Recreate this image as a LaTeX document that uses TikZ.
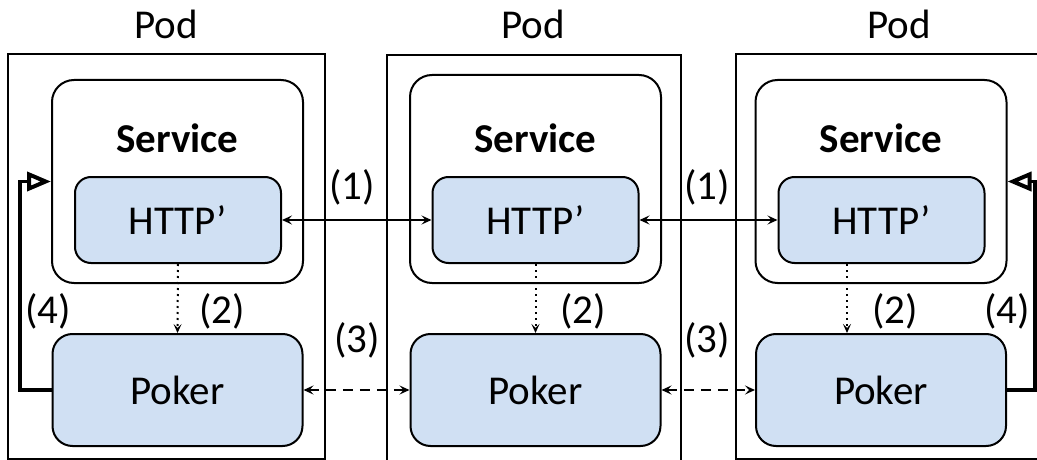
\documentclass[tikz,border=0pt]{standalone}
\usepackage{fontspec}
\setmainfont{Carlito}
\usetikzlibrary{arrows.meta}
\definecolor{boxblue}{RGB}{208,224,243}
\tikzset{
  txt/.style={inner sep=0pt, font=\fontsize{41}{48}\selectfont},
  bold/.style={txt, font=\fontsize{41}{48}\selectfont\bfseries},
  podbox/.style={draw, line width=1.5pt},
  servbox/.style={draw, line width=2pt, rounded corners=22pt, inner sep=0pt},
  bluebox/.style={draw, line width=2pt, fill=boxblue, inner sep=0pt, font=\fontsize{41}{48}\selectfont},
  httpbox/.style={bluebox, rounded corners=16pt, minimum width=206pt, minimum height=86pt},
  pokerbox/.style={bluebox, rounded corners=20pt, minimum width=250pt, minimum height=112pt},
  conn/.style={line width=1.6pt, {Stealth[length=10pt,width=9pt,inset=4pt]}-{Stealth[length=10pt,width=9pt,inset=4pt]}},
  dotconn/.style={line width=2pt, dash pattern=on 2pt off 4pt, -{Stealth[length=9pt,width=8pt,inset=4pt,line width=1.6pt]}},
  dashconn/.style={conn, dash pattern=on 10pt off 7pt},
  feedback/.style={line width=3.5pt, -{Triangle[open,length=24pt,width=19pt,line width=4pt]}}
}
\begin{document}
\begin{tikzpicture}[x=1pt,y=-1pt]
\clip (0,0) rectangle (1037,460);
\fill[white] (0,0) rectangle (1037,460);
% pods
\draw[podbox] (8,54) rectangle (325,459);
\draw[podbox] (387,55) rectangle (681,480);
\draw[podbox] (736,54) rectangle (1060,459);
\node[txt] (pod1) at (166,24) {Pod};
\node[txt] (pod2) at (533,24) {Pod};
\node[txt] (pod3) at (899,24) {Pod};
% services
\node[servbox, minimum width=251pt, minimum height=203pt] (s1) at (177.5,181.5) {};
\node[servbox, minimum width=251pt, minimum height=208pt] (s2) at (535.5,179) {};
\node[servbox, minimum width=251pt, minimum height=203pt] (s3) at (881,181.5) {};
\node[bold] (st1) at (177.5,138) {Service};
\node[bold] (st2) at (535.5,138) {Service};
\node[bold] (st3) at (881,138) {Service};
% HTTP'
\node[httpbox] (h1) at (178,220) {HTTP’};
\node[httpbox] (h2) at (535.5,220) {HTTP’};
\node[httpbox] (h3) at (881.5,220) {HTTP’};
% Poker
\node[pokerbox] (p1) at (177.5,390) {Poker};
\node[pokerbox] (p2) at (535.5,390) {Poker};
\node[pokerbox] (p3) at (881,390) {Poker};
% connectors
\draw[conn] (h1.east) -- (h2.west);
\draw[conn] (h2.east) -- (h3.west);
\draw[dashconn] (p1.east) -- (p2.west);
\draw[dashconn] (p2.east) -- (p3.west);
\draw[dotconn] (h1.south) -- (p1.north);
\draw[dotconn] (h2.south) -- (p2.north);
\coordinate (d3) at (847,300);
\draw[dotconn] (h3.south -| d3) -- (p3.north -| d3);
\coordinate (fbL) at (20,300);
\coordinate (fbR) at (1035,300);
\draw[feedback] (p1.west) -- (p1.west -| fbL) -- (s1.west -| fbL) -- (s1.west);
\draw[feedback] (p3.east) -- (p3.east -| fbR) -- (s3.east -| fbR) -- (s3.east);
% labels
\node[txt] (l1a) at (352,187) {(1)};
\node[txt] (l1b) at (707,187) {(1)};
\node[txt] (l2a) at (222,311) {(2)};
\node[txt] (l2b) at (583,311) {(2)};
\node[txt] (l2c) at (895,311) {(2)};
\node[txt] (l3a) at (357,340) {(3)};
\node[txt] (l3b) at (707,340) {(3)};
\node[txt] (l4a) at (48,311) {(4)};
\node[txt] (l4b) at (1007,311) {(4)};
\end{tikzpicture}
\end{document}
